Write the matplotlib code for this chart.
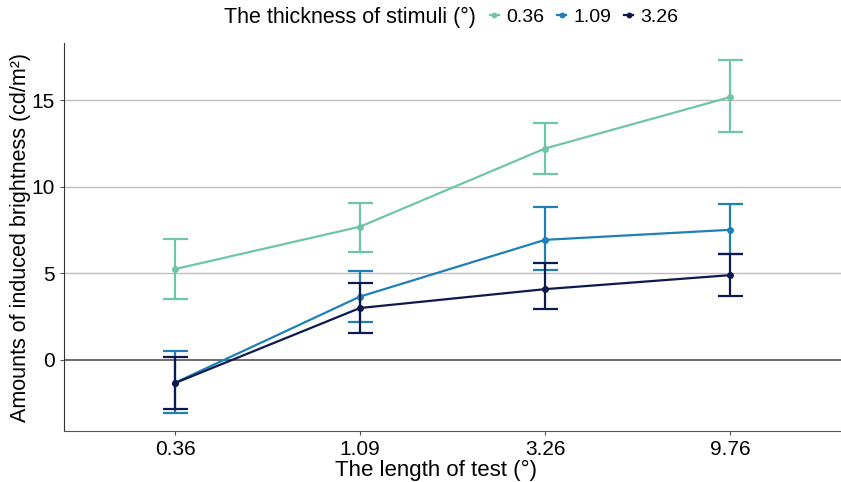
import matplotlib.pyplot as plt
import numpy as np

plt.rcParams['font.family'] = ['Liberation Sans', 'DejaVu Sans']

# x categories (length of test) and series (thickness of stimuli)
lengths = ["0.36", "1.09", "3.26", "9.76"]
thickness = ["0.36", "1.09", "3.26"]
colors = ["#6fc6a6", "#1f80b8", "#0d1a4e"]

# mean values and error bar limits
mean_036 = [5.23, 7.68, 12.2, 15.17]
low_036 = [3.49, 6.22, 10.7, 13.14]
high_036 = [6.98, 9.07, 13.66, 17.33]

mean_109 = [-1.34, 3.64, 6.92, 7.5]
low_109 = [-3.1, 2.15, 5.17, 6.1]
high_109 = [0.52, 5.1, 8.8, 9.01]

mean_326 = [-1.36, 2.98, 4.07, 4.88]
low_326 = [-2.87, 1.53, 2.9, 3.68]
high_326 = [0.17, 4.4, 5.58, 6.12]

means = [mean_036, mean_109, mean_326]
lows = [low_036, low_109, low_326]
highs = [high_036, high_109, high_326]

fig = plt.figure(figsize=(8.41, 4.82), dpi=100)
ax = fig.add_axes([64 / 841, 1 - 431 / 482, 777 / 841, 388 / 482])

x = np.arange(1, len(lengths) + 1)

for i in range(len(thickness)):
    m = np.array(means[i])
    err = [m - np.array(lows[i]), np.array(highs[i]) - m]
    ax.errorbar(x, m, yerr=err, color=colors[i], lw=1.6, elinewidth=1.6,
                capsize=9, capthick=1.6, marker="o", ms=4, label=thickness[i],
                zorder=3 + i)

# grid and reference line
for yv in [5, 10, 15]:
    ax.axhline(yv, color="#bdbdbd", lw=1, zorder=1)
ax.axhline(0, color="#6b6b6b", lw=1.4, zorder=2)

ax.set_xlim(0.4, 4.6)
ax.set_ylim(-4.13, 18.3)
ax.set_xticks(x)
ax.set_xticklabels(lengths)
ax.set_yticks([0, 5, 10, 15])
ax.tick_params(labelsize=15, length=3, color="#555555", labelcolor="black")

for s in ["top", "right"]:
    ax.spines[s].set_visible(False)
ax.spines["left"].set_color("#333333")
ax.spines["bottom"].set_color("#555555")

ax.set_xlabel("The length of test (°)", fontsize=16, labelpad=1)
ax.xaxis.set_label_coords((436 - 64) / 777, -0.075)
ax.set_ylabel("Amounts of induced brightness (cd/m²)", fontsize=15.5)
ax.yaxis.set_label_coords(-0.043, 0.5)

# legend on top, title to the left of the entries
fig.text(224 / 841, 1 - 17 / 482, "The thickness of stimuli (°)", fontsize=15.5,
         va="center", ha="left")
handles, labels = ax.get_legend_handles_labels()
handles = [h[0] for h in handles]
fig.legend(handles, labels, ncol=3, loc="center left",
           bbox_to_anchor=(472 / 841, 1 - 17 / 482), frameon=False,
           fontsize=14, handlelength=0.5, handletextpad=0.35,
           columnspacing=0.65, markerscale=0.8)

fig.savefig("out.png", dpi=100)
